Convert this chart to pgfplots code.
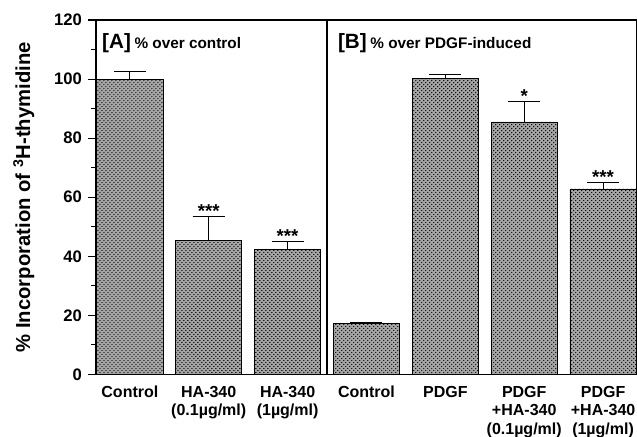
\documentclass[border=0pt]{standalone}
\usepackage{pgfplots}
\pgfplotsset{compat=1.18}
\usepackage{fontspec}
\setmainfont{Liberation Sans}
\usetikzlibrary{patterns}
\begin{document}
\begin{tikzpicture}
\begin{axis}[
    name=ax,
    scale only axis,
    width=406pt, height=266pt,
    ymin=0, ymax=120,
    xmin=-0.43, xmax=6.43,
    ytick={0,20,...,120},
    minor y tick num=1,
    tick align=outside,
    ytick pos=left,
    xtick={0,...,6},
    xtick style={draw=none},
    xticklabels={Control, {HA-340\\(0.1µg/ml)}, {HA-340\\(1µg/ml)}, Control, PDGF, {PDGF\\+HA-340\\(0.1µg/ml)}, {PDGF\\+HA-340\\(1µg/ml)}},
    xticklabel style={align=center, font=\bfseries\fontsize{12}{14.2}\selectfont, yshift=1pt},
    yticklabel style={font=\bfseries\fontsize{12.5}{14}\selectfont, xshift=-1pt},
    /pgf/number format/assume math mode=true,
    ylabel={\% Incorporation of \textsuperscript{3}H-thymidine},
    ylabel style={font=\bfseries\fontsize{15.2}{17}\selectfont, yshift=8pt},
    axis line style={line width=0.9pt},
    major tick length=6pt, minor tick length=3.5pt,
    every tick/.style={black, line width=0.8pt},
    clip=false,
]
\addplot[ybar, bar width=0.84, draw=black, line width=0.6pt,
    fill=gray!70, postaction={pattern=crosshatch dots, pattern color=black},
    error bars/.cd, y dir=plus, y explicit,
    error bar style={black, line width=0.8pt},
    error mark options={rotate=90, mark size=12pt, line width=0.8pt}]
  table[x=x, y=y, y error=e] {
    x y e
    0 100.0 2.5
    1 45.5 8.0
    2 42.3 2.6
    3 17.2 0.3
    4 100.3 1.3
    5 85.5 6.8
    6 62.8 2.1
  };
\addplot[draw=none, mark=none, nodes near coords, point meta=explicit symbolic,
    every node near coord/.append style={font=\bfseries\fontsize{14}{14}\selectfont, anchor=south, yshift=-4pt}]
  table[x=x, y=y, meta=s] {
    x y s
    1 53.5 ***
    2 44.9 ***
    5 92.3 *
    6 64.9 ***
  };
\addplot[black, line width=1.6pt, mark=none] coordinates {(2.5,0) (2.5,120)};
\node[anchor=base west, font=\bfseries] at (axis cs:-0.41,110.5) {{\fontsize{15.5}{16}\selectfont [A]} {\fontsize{11.5}{12}\selectfont \% over control}};
\node[anchor=base west, font=\bfseries] at (axis cs:2.58,110.5) {{\fontsize{15.5}{16}\selectfont [B]} {\fontsize{11.5}{12}\selectfont \% over PDGF-induced}};
\end{axis}
\pgfresetboundingbox
\path[use as bounding box] ([xshift=-72pt, yshift=-46.5pt]ax.south west) rectangle ([yshift=15pt]ax.north east);
\end{tikzpicture}
\end{document}
